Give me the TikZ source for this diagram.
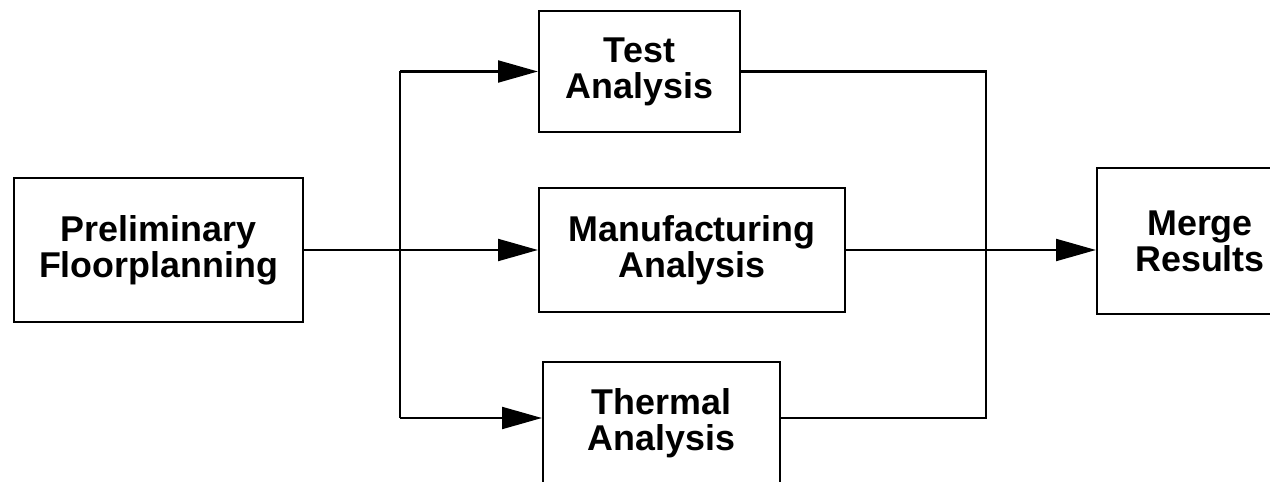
\documentclass[tikz,border=0pt]{standalone}
\usepackage{fontspec}
\setmainfont{Liberation Sans}
\usetikzlibrary{arrows.meta}
\begin{document}
\begin{tikzpicture}[x=0.02cm, y=-0.02cm,
  boxnode/.style={draw, line width=1.3pt, rectangle, align=center,
    font=\fontsize{20.4pt}{20.6pt}\selectfont\bfseries, inner sep=0pt},
  flowline/.style={line width=1.3pt},
  flowarrow/.style={line width=1.3pt, -{Triangle[length=22.7pt,width=12.5pt]}}
]
\useasboundingbox (0,0) rectangle (1270,482);
\clip (0,0) rectangle (1270,482);

\node[boxnode, minimum width=5.78cm, minimum height=2.88cm] (prelim) at (158.5,250) {Preliminary\\Floorplanning};
\node[boxnode, minimum width=4.02cm, minimum height=2.42cm] (test) at (639.5,71.5) {Test\\Analysis};
\node[boxnode, minimum width=6.12cm, minimum height=2.48cm] (manuf) at (692,250) {Manufacturing\\Analysis};
\node[boxnode, minimum width=4.74cm, minimum height=2.44cm] (thermal) at (661.5,423) {Thermal\\Analysis};
\node[boxnode, minimum width=4.12cm, minimum height=2.92cm] (merge) at (1200,241) {Merge\\Results};

\coordinate (tl) at (400,71.5);
\coordinate (bl) at (400,418);
\coordinate (tr) at (986,71.5);
\coordinate (br) at (986,418);

\draw[flowarrow] (prelim.east) -- (manuf.west);
\draw[flowline] (tl) -- (bl);
\draw[flowarrow] (tl) -- (test.west);
\draw[flowarrow] (bl) -- (bl -| thermal.west);
\draw[flowline] (test.east) -- (tr) -- (br) -- (br -| thermal.east);
\draw[flowarrow] (manuf.east) -- (manuf.east -| merge.west);

\end{tikzpicture}
\end{document}
